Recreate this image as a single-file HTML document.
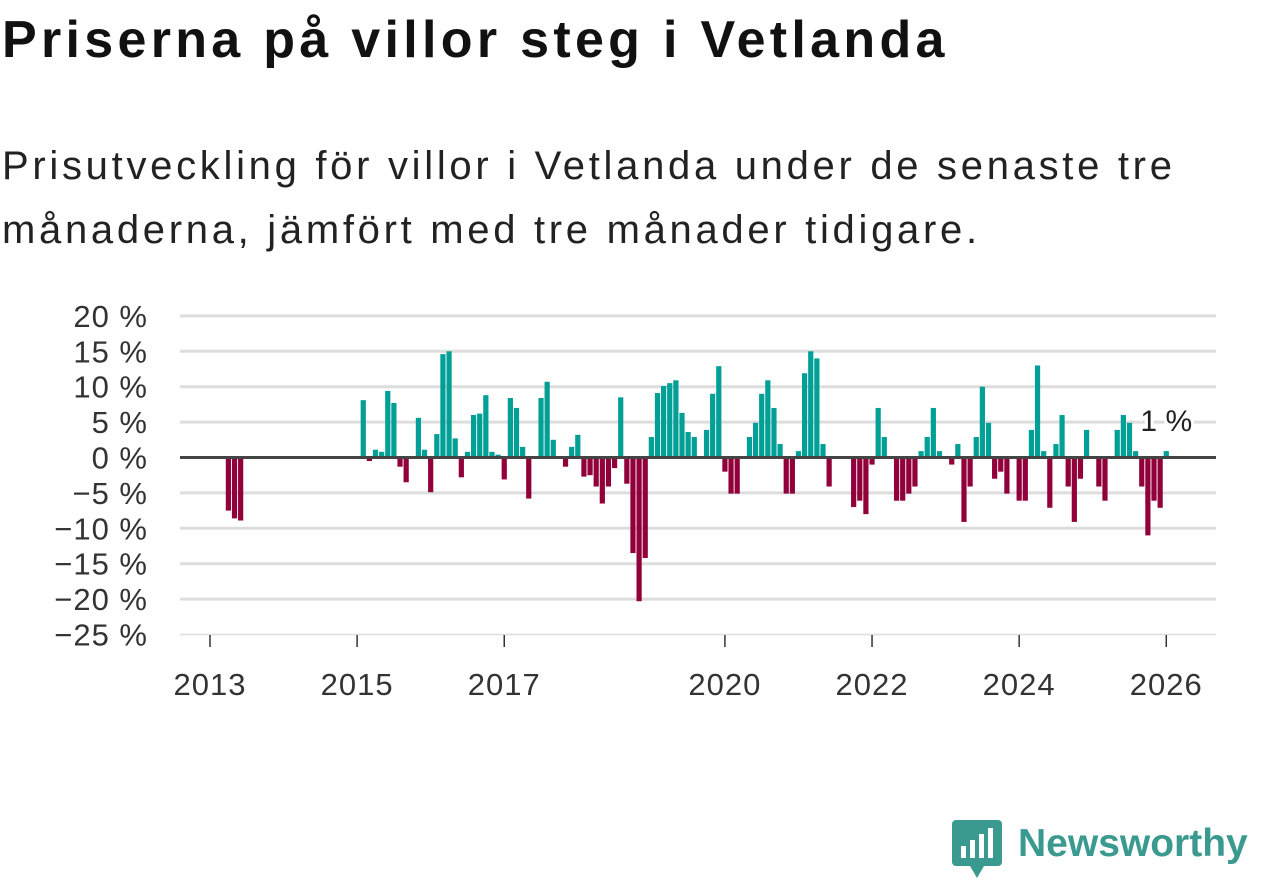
<!DOCTYPE html>
<html><head><meta charset="utf-8">
<style>
body{margin:0;width:1262px;height:879px;background:#fff;font-family:"Liberation Sans",sans-serif;overflow:hidden;position:relative}
h1{position:absolute;left:2px;top:10px;margin:0;font-size:52px;font-weight:bold;color:#111;letter-spacing:4.3px;white-space:nowrap}
.sub{position:absolute;left:2px;top:134px;margin:0;font-size:40px;line-height:64px;color:#222;letter-spacing:3.7px;white-space:nowrap}
svg{position:absolute;left:0;top:0}
</style></head><body>
<h1>Priserna på villor steg i Vetlanda</h1>
<p class="sub">Prisutveckling för villor i Vetlanda under de senaste tre<br>månaderna, jämfört med tre månader tidigare.</p>
<svg id="chart" width="1262" height="879"></svg>
<div style="position:absolute;left:952px;top:818px;width:310px;height:60px">
<svg width="50" height="60" style="position:absolute;left:0;top:2px"><path d="M4 0h42a4 4 0 0 1 4 4v38a4 4 0 0 1-4 4H32l-7 12-7-12H4a4 4 0 0 1-4-4V4a4 4 0 0 1 4-4z" fill="#3a9a8f"/><rect x="9" y="26" width="5" height="12" fill="#fff"/><rect x="18" y="20" width="5" height="18" fill="#fff"/><rect x="27" y="14" width="5" height="24" fill="#fff"/><rect x="36" y="8" width="5" height="30" fill="#fff"/></svg>
<span style="position:absolute;left:66px;top:4px;font-size:39px;font-weight:bold;color:#3a9a8f;white-space:nowrap">Newsworthy</span></div>
<script>
const months=[3,4,5,25,26,27,28,29,30,31,32,34,35,36,37,38,39,40,41,42,43,44,45,46,47,48,49,50,51,52,54,55,56,58,59,60,61,62,63,64,65,66,67,68,69,70,71,72,73,74,75,76,77,78,79,81,82,83,84,85,86,88,89,90,91,92,93,94,95,96,97,98,99,100,101,105,106,107,108,109,110,112,113,114,115,116,117,118,119,121,122,123,124,125,126,127,128,129,130,132,133,134,135,136,137,138,139,140,141,142,143,145,146,148,149,150,151,152,153,154,155,156];
const values=[-7.5,-8.6,-8.9,8.1,-0.5,1.1,0.8,9.4,7.7,-1.3,-3.5,5.6,1.1,-4.9,3.3,14.6,15.0,2.7,-2.8,0.8,6.0,6.2,8.8,0.8,0.4,-3.1,8.4,7.0,1.5,-5.8,8.4,10.7,2.5,-1.3,1.5,3.2,-2.7,-2.5,-4.1,-6.5,-4.1,-1.5,8.5,-3.7,-13.5,-20.3,-14.2,2.9,9.1,10.1,10.5,10.9,6.3,3.6,2.9,3.9,9.0,12.9,-2.0,-5.1,-5.1,2.9,4.9,9.0,10.9,7.0,1.9,-5.1,-5.1,0.9,11.9,15.0,14.0,1.9,-4.1,-7.0,-6.1,-8.0,-1.0,7.0,2.9,-6.1,-6.1,-5.1,-4.1,0.9,2.9,7.0,0.9,-1.0,1.9,-9.1,-4.1,2.9,10.0,4.9,-3.0,-2.0,-5.1,-6.1,-6.1,3.9,13.0,0.9,-7.1,1.9,6.0,-4.1,-9.1,-3.0,3.9,-4.1,-6.1,3.9,6.0,4.9,0.9,-4.1,-11.0,-6.1,-7.1,0.9];
const yTicks=[20,15,10,5,0,-5,-10,-15,-20,-25];
const xTickYears=[2013,2015,2017,2020,2022,2024,2026];
const lastLabel="1 %";
const NS="http://www.w3.org/2000/svg",svg=document.getElementById('chart');
const y=v=>457.5-v*7.08, x=m=>210+m*6.13;
function mk(t,a){const e=document.createElementNS(NS,t);for(const k in a)e.setAttribute(k,a[k]);svg.appendChild(e);return e;}
yTicks.forEach(t=>{
 const g=mk('line',{x1:180,x2:1216,y1:y(t),y2:y(t),stroke:'#ddd','stroke-width':t===-25?1.5:3});
 
 
 const l=mk('text',{x:148,y:y(t)+11,'text-anchor':'end','font-size':31,fill:'#333','letter-spacing':1});
 l.textContent=(t<0?'\u2212'+(-t):t)+' %';
 
 
});
xTickYears.forEach(yr=>{
 const xx=x((yr-2013)*12);
 const tk=mk('line',{x1:xx,x2:xx,y1:635,y2:647,stroke:'#333','stroke-width':1.5});
 
 
 const l=mk('text',{x:xx,y:695,'text-anchor':'middle','font-size':31,fill:'#333','letter-spacing':1});
 l.textContent=yr;
 
 
});
months.forEach((m,i)=>{
 const v=values[i],top=Math.min(y(v),y(0)),h=Math.abs(y(v)-y(0));
 const r=mk('rect',{x:x(m)-2.6,y:top,width:5.2,height:h,fill:v>=0?'#00a096':'#91003a'});
 
 
});
const z=mk('line',{x1:180,x2:1216,y1:y(0),y2:y(0),stroke:'#444','stroke-width':3});


const lm=months[months.length-1];
const lb=mk('text',{x:x(lm),y:431,'text-anchor':'middle','font-size':30,fill:'#222',stroke:'#fff','stroke-width':6,'paint-order':'stroke'});
lb.textContent=lastLabel;


</script>
</body></html>
